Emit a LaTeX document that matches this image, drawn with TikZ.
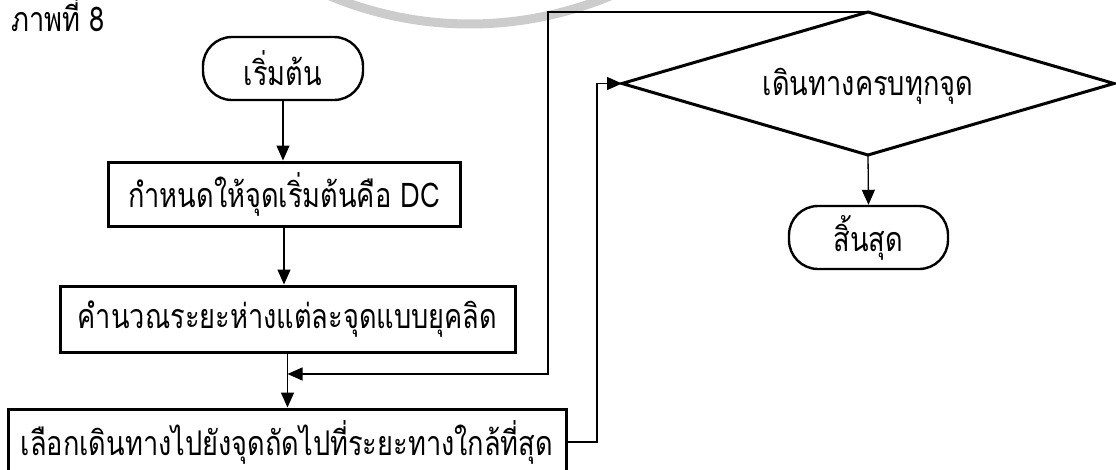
\documentclass[tikz,border=0pt]{standalone}
\usepackage{fontspec}
\setmainfont{Loma}[Script=Thai, FakeStretch=0.8]
\usetikzlibrary{arrows.meta}
\begin{document}
\begin{tikzpicture}[x=1pt,y=-1pt,
  font=\fontsize{34}{40}\selectfont,
  proc/.style={draw, line width=3pt, rectangle, inner sep=0pt},
  term/.style={draw, line width=2.4pt, rounded corners=29pt, minimum width=160pt, minimum height=63pt, inner sep=0pt},
  decline/.style={line width=3pt, line join=miter},
  conn/.style={line width=1.3pt, -{Triangle[length=15pt,width=13pt]}},
  wm/.style={draw=black!20, line width=9pt}]
\useasboundingbox (0,0) rectangle (1116,469);
% watermark arc
\draw[wm] (470,-340) ++(60:364) arc[start angle=60, end angle=120, radius=364];
% title
\node[anchor=north west, inner sep=0pt] (title) at (11,-4) {ภาพที่ 8};
% nodes
\node[term] (start) at (283,68.5) {เริ่มต้น};
\node[proc, minimum width=352pt, minimum height=64pt] (box1) at (284,194) {กำหนดให้จุดเริ่มต้นคือ DC};
\node[proc, minimum width=455pt, minimum height=66pt] (box2) at (287.5,319) {คำนวณระยะห่างแต่ละจุดแบบยุคลิด};
\node[proc, minimum width=558pt, minimum height=66pt] (box3) at (287,442) {เลือกเดินทางไปยังจุดถัดไปที่ระยะทางใกล้ที่สุด};
\node[inner sep=0pt] (dec) at (868,86) {เดินทางครบทุกจุด};
\coordinate (dtop) at (868,12);
\coordinate (dleft) at (622,83.5);
\coordinate (dright) at (1114,83.5);
\coordinate (dbot) at (868,155);
\draw[decline] (dtop) -- (dright) -- (dbot) -- (dleft) -- cycle;
\node[term, minimum width=159pt] (endn) at (868.5,237.5) {สิ้นสุด};
% helper coordinates
\coordinate (jy) at (0,374);
\coordinate (j) at (box2.south |- jy);
\coordinate (lx) at (548,0);
\coordinate (rx) at (597,0);
% connectors
\draw[conn] (start.south) -- (start.south |- box1.north);
\draw[conn] (box1.south) -- (box1.south |- box2.north);
\draw[conn] (box2.south) -- (box2.south |- box3.north);
\draw[conn] (dtop) -| (lx |- j) -- (j);
\draw[conn] (box3.east) -| (rx |- dleft) -- (dleft);
\draw[conn] (dbot) -- (endn.north);
\end{tikzpicture}
\end{document}
